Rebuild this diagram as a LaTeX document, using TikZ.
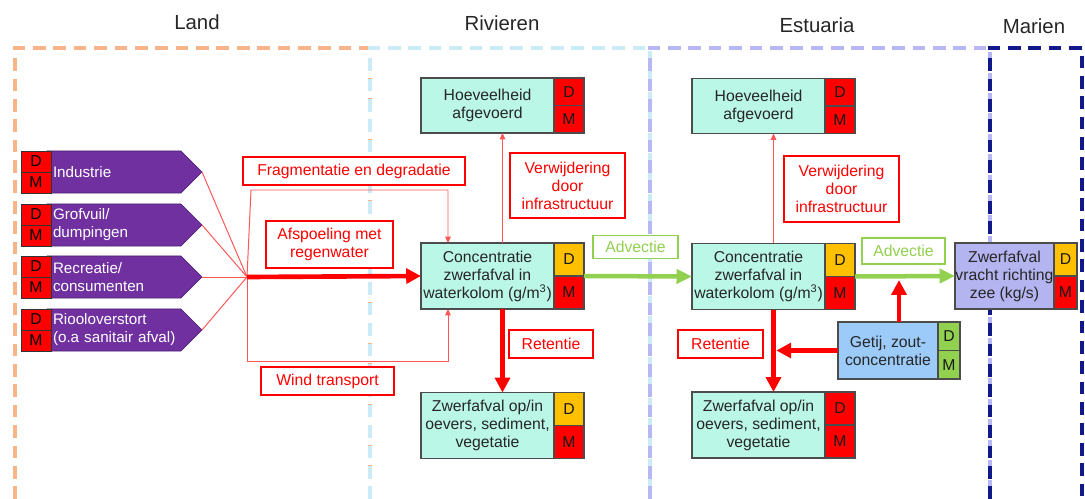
\documentclass[tikz,border=0pt]{standalone}
\usepackage{fontspec}
\setmainfont{Liberation Sans}
\usetikzlibrary{arrows.meta,shapes.symbols,fit}
\definecolor{landc}{HTML}{F8B58A}
\definecolor{rivc}{HTML}{CBEBF7}
\definecolor{estc}{HTML}{B7B7F5}
\definecolor{marc}{HTML}{10188A}
\definecolor{mint}{HTML}{BAF7E6}
\definecolor{dmred}{HTML}{FF0000}
\definecolor{dmorange}{HTML}{FFC000}
\definecolor{advgreen}{HTML}{92D050}
\definecolor{getijblue}{HTML}{9CCBFA}
\definecolor{lavbox}{HTML}{B4B4F0}
\definecolor{srcpurple}{HTML}{7030A0}
\definecolor{thinred}{HTML}{FF5555}
\begin{document}
\begin{tikzpicture}[x=0.025cm, y=-0.025cm,
		every node/.style={font=\fontsize{11.2}{12.8}\selectfont, outer sep=0pt},
		regtitle/.style={font=\fontsize{14.5}{17}\selectfont, text=black!85},
		region/.style={line width=2.2pt, dash pattern=on 9pt off 5.5pt},
		mainbox/.style={draw=black!70, line width=0.9pt, fill=mint, inner sep=0pt, align=center, minimum width=3.325cm, minimum height=1.65cm, text=black!85},
		dmcell/.style={draw=black!70, line width=0.9pt, inner sep=0pt, minimum width=0.75cm, minimum height=0.825cm, anchor=north west, text=black!90},
		allbox/.style={inner sep=0pt},
		srcbox/.style={signal, signal to=east, signal pointer angle=90, fill=srcpurple, draw=srcpurple!70!black, text=white, font=\fontsize{10.8}{12.8}\selectfont, minimum height=1.05cm, minimum width=3.875cm, text width=3.05cm, align=left, anchor=west, inner sep=0pt},
		srccell/.style={draw=black!80, line width=0.6pt, fill=dmred, inner sep=0pt, minimum width=0.75cm, minimum height=0.525cm, anchor=north west},
		procbox/.style={draw=red, line width=1.1pt, fill=white, text=red, align=center, inner sep=0pt},
		advbox/.style={procbox, draw=advgreen, text=advgreen},
		thinline/.style={draw=thinred, line width=0.7pt},
		thinarrow/.style={thinline, -{Triangle[length=4.5pt,width=4pt]}},
		thickarrow/.style={draw=red, line width=3.3pt, -{Triangle[length=10.5pt,width=10.5pt]}},
		greenarrow/.style={draw=advgreen, line width=3.2pt, -{Triangle[length=11pt,width=10pt]}}
	]
	\useasboundingbox (0,0) rectangle (1085,499);
	\draw[region, draw=landc] (15,499) -- (15,48) -- (370,48) -- (370,499);
	\draw[region, draw=rivc] (370,499) -- (370,48) -- (650,48) -- (650,499);
	\draw[region, draw=estc] (650,499) -- (650,48) -- (990,48) -- (990,499);
	\draw[region, draw=marc, line width=2.6pt] (990,499) -- (990,48) -- (1082,48) -- (1082,499);
	\node[regtitle] (tLand) at (197,22) {Land};
	\node[regtitle] (tRiv) at (502,23) {Rivieren};
	\node[regtitle] (tEst) at (817,25) {Estuaria};
	\node[regtitle] (tMar) at (1034,26) {Marien};

	\node[srcbox] (ind) at (47,172) {Industrie};
		\node[srccell] (indD) at (21,151) {D};
		\node[srccell] (indM) at (indD.south west) {M};
	\node[srcbox] (grof) at (47,225) {Grofvuil/\\dumpingen};
		\node[srccell] (grofD) at (21,204) {D};
		\node[srccell] (grofM) at (grofD.south west) {M};
	\node[srcbox] (recr) at (47,277) {Recreatie/\\consumenten};
		\node[srccell] (recrD) at (21,256) {D};
		\node[srccell] (recrM) at (recrD.south west) {M};
	\node[srcbox] (rioo) at (47,330) {Riooloverstort\\\mbox{(o.a sanitair afval)}};
		\node[srccell] (riooD) at (21,309) {D};
		\node[srccell] (riooM) at (riooD.south west) {M};

	\node[mainbox, minimum height=1.375cm] (rh) at (487.5,105.5) {Hoeveelheid\\afgevoerd};
		\node[dmcell, fill=dmred, minimum height=0.6875cm] (rhD) at (rh.north east) {D};
		\node[dmcell, fill=dmred, minimum height=0.6875cm] (rhM) at (rhD.south west) {M};
		\node[allbox, fit=(rh)(rhD)(rhM)] (rhAll) {};
	\node[mainbox] (rc) at (487.5,276) {Concentratie\\zwerfafval in\\waterkolom (g/m\textsuperscript{3})};
		\node[dmcell, fill=dmorange] (rcD) at (rc.north east) {D};
		\node[dmcell, fill=dmred] (rcM) at (rcD.south west) {M};
		\node[allbox, fit=(rc)(rcD)(rcM)] (rcAll) {};
	\node[mainbox] (rz) at (487.5,425.5) {Zwerfafval op/in\\oevers, sediment,\\vegetatie};
		\node[dmcell, fill=dmorange] (rzD) at (rz.north east) {D};
		\node[dmcell, fill=dmred] (rzM) at (rzD.south west) {M};
		\node[allbox, fit=(rz)(rzD)(rzM)] (rzAll) {};

	\node[mainbox, minimum height=1.375cm] (eh) at (758.5,106) {Hoeveelheid\\afgevoerd};
		\node[dmcell, fill=dmred, minimum height=0.6875cm] (ehD) at (eh.north east) {D};
		\node[dmcell, fill=dmred, minimum height=0.6875cm] (ehM) at (ehD.south west) {M};
		\node[allbox, fit=(eh)(ehD)(ehM)] (ehAll) {};
	\node[mainbox] (ec) at (758.5,276.5) {Concentratie\\zwerfafval in\\waterkolom (g/m\textsuperscript{3})};
		\node[dmcell, fill=dmorange] (ecD) at (ec.north east) {D};
		\node[dmcell, fill=dmred] (ecM) at (ecD.south west) {M};
		\node[allbox, fit=(ec)(ecD)(ecM)] (ecAll) {};
	\node[mainbox] (ez) at (758.5,425) {Zwerfafval op/in\\oevers, sediment,\\vegetatie};
		\node[dmcell, fill=dmred] (ezD) at (ez.north east) {D};
		\node[dmcell, fill=dmred] (ezM) at (ezD.south west) {M};
		\node[allbox, fit=(ez)(ezD)(ezM)] (ezAll) {};

	\node[mainbox, fill=lavbox, minimum width=2.475cm] (vz) at (1004.5,276) {Zwerfafval\\vracht richting\\zee (kg/s)};
		\node[dmcell, fill=dmorange, minimum width=0.575cm] (vzD) at (vz.north east) {D};
		\node[dmcell, fill=dmred, minimum width=0.575cm] (vzM) at (vzD.south west) {M};
		\node[allbox, fit=(vz)(vzD)(vzM)] (vzAll) {};
	\node[mainbox, fill=getijblue, minimum width=2.5cm, minimum height=1.425cm] (gz) at (888,350.5) {Getij, zout-\\concentratie};
		\node[dmcell, fill=advgreen, minimum width=0.55cm, minimum height=0.7125cm] (gzD) at (gz.north east) {D};
		\node[dmcell, fill=advgreen, minimum width=0.55cm, minimum height=0.7125cm] (gzM) at (gzD.south west) {M};
		\node[allbox, fit=(gz)(gzD)(gzM)] (gzAll) {};

	\node[procbox, minimum width=5.55cm, minimum height=0.7cm] (frag) at (354,171) {Fragmentatie en degradatie};
	\node[procbox, minimum width=3.175cm, minimum height=1.175cm] (afsp) at (329.5,244.5) {Afspoeling met\\regenwater};
	\node[procbox, minimum width=3.325cm, minimum height=0.7cm] (wind) at (327.5,381) {Wind transport};
	\node[procbox, minimum width=2.875cm, minimum height=1.625cm] (verwR) at (567.5,185.5) {Verwijdering\\door\\infrastructuur};
	\node[procbox, minimum width=2.1cm, minimum height=0.7cm] (retR) at (551,344) {Retentie};
	\node[advbox, minimum width=2.125cm, minimum height=0.575cm] (advR) at (635.5,247) {Advectie};
	\node[procbox, minimum width=2.875cm, minimum height=1.65cm] (verwE) at (841.5,189) {Verwijdering\\door\\infrastructuur};
	\node[advbox, minimum width=2.075cm, minimum height=0.65cm] (advE) at (903.5,251) {Advectie};
	\node[procbox, minimum width=2.125cm, minimum height=0.7cm] (retE) at (720.5,344) {Retentie};

	\coordinate (hub) at (247,277);
	\draw[thinline] (ind.east) -- (hub);
	\draw[thinline] (grof.east) -- (hub);
	\draw[thinline] (recr.east) -- (hub);
	\draw[thinline] (rioo.east) -- (hub);
	\draw[thinarrow] (hub) -- ++(4,-87) -| ([xshift=0.675cm]rc.north west);
	\draw[thinarrow] (hub) -- ++(0,84) -| ([xshift=0.675cm]rc.south west);
	\draw[thickarrow] (hub) -- (rcAll.west);

	\draw[thinarrow] (rcAll.north) -- (rhAll.south);
	\draw[thickarrow] (rcAll.south) -- (rzAll.north);
	\draw[greenarrow] (rcAll.east) -- (ecAll.west);
	\draw[thinarrow] (ecAll.north) -- (ehAll.south);
	\draw[thickarrow] (ecAll.south) -- (ezAll.north);
	\draw[greenarrow] (ecAll.east) -- (vzAll.west);
	\draw[thickarrow, shorten >=2.5pt] (gzAll.north) -- (gzAll.north |- ecAll.east);
	\draw[thickarrow, shorten >=2pt] (gzAll.west) -- (gzAll.west -| ecAll.south);
\end{tikzpicture}
\end{document}
